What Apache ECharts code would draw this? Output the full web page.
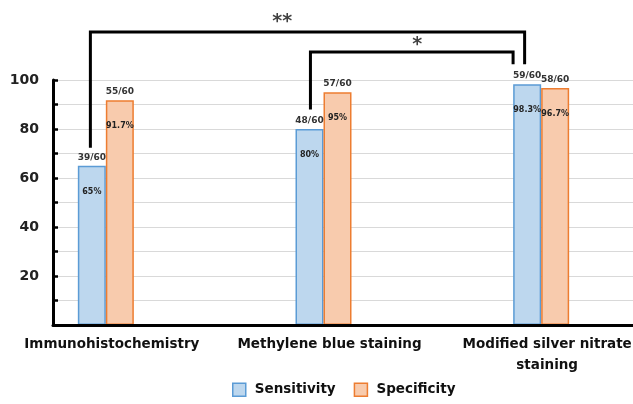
<!DOCTYPE html>
<html>
<head>
<meta charset="utf-8">
<script src="https://cdn.jsdelivr.net/npm/echarts@6/dist/echarts.min.js"></script>
<style>
html,body{margin:0;padding:0;background:#fff;}
#chart{width:633px;height:404px;}
</style>
</head>
<body>
<div id="chart"></div>
<script>
// ---- data ----
const categories = ['Immunohistochemistry', 'Methylene blue staining', 'Modified silver nitrate\nstaining'];
const seriesNames = ['Sensitivity', 'Specificity'];
const sensitivity = [65, 80, 98.3];
const specificity = [91.7, 95, 96.7];
const sensitivityCounts = ['39/60', '48/60', '59/60'];
const specificityCounts = ['55/60', '57/60', '58/60'];
const yTickLabels = [20, 40, 60, 80, 100];
// significance brackets (data units: x = category index, y = percent)
const bracketLabels = ['**', '*'];
const bracketPaths = [
  [[-0.071, 73], [-0.071, 119.6], [1.924, 119.6], [1.924, 107]],
  [[0.94, 88.6], [0.94, 111.4], [1.871, 111.4], [1.871, 107]]
];
const bracketLabelPos = [[0.81, 123.5], [1.43, 114.3]];

// ---- styles ----
const FONT = 'DejaVu Sans';
const fills = ['#bdd7ee', '#f8cbad'];
const borders = ['#5b9bd5', '#ed7d31'];

const valueSeries = [sensitivity, specificity];
const countSeries = [sensitivityCounts, specificityCounts];

const series = [];
valueSeries.forEach((vals, k) => {
  series.push({
    name: seriesNames[k], type: 'bar', stack: 's' + k,
    xAxisIndex: 0, yAxisIndex: 1,
    barWidth: 28, barGap: '0%',
    data: vals,
    itemStyle: { color: fills[k], borderColor: borders[k], borderWidth: 1.5 },
    label: {
      show: true, position: 'insideTop', distance: 22,
      formatter: p => p.value + '%',
      fontFamily: FONT, fontSize: 8, fontWeight: 'bold', color: '#222'
    },
    z: 2
  });
  series.push({
    name: seriesNames[k] + ' n', type: 'bar', stack: 's' + k,
    xAxisIndex: 0, yAxisIndex: 1,
    barWidth: 28, barGap: '0%',
    data: vals.map(() => 0),
    itemStyle: { color: 'rgba(0,0,0,0)' },
    label: {
      show: true, position: 'top', distance: 4,
      formatter: p => countSeries[k][p.dataIndex],
      fontFamily: FONT, fontSize: 9, fontWeight: 'bold', color: '#333'
    },
    silent: true, z: 3
  });
});

bracketPaths.forEach((path, i) => {
  series.push({
    type: 'line', xAxisIndex: 2, yAxisIndex: 1,
    data: path, symbol: 'none', clip: false, silent: true,
    lineStyle: { color: '#000', width: 3, join: 'miter', cap: 'square' },
    z: 4
  });
  series.push({
    type: 'scatter', xAxisIndex: 2, yAxisIndex: 1,
    data: [bracketLabelPos[i]], symbolSize: 1, clip: false, silent: true,
    itemStyle: { color: 'rgba(0,0,0,0)' },
    label: {
      show: true, position: 'inside', formatter: bracketLabels[i],
      fontFamily: FONT, fontSize: 19, fontWeight: 'bold', color: '#111'
    },
    z: 4
  });
});

const option = {
  backgroundColor: '#fff',
  animation: false,
  textStyle: { fontFamily: FONT },
  grid: [
    { left: -3, right: -17, top: 80, bottom: 79, containLabel: false, outerBoundsMode: 'none' },
    { left: 53, right: 0, top: 80, bottom: 79, containLabel: false, outerBoundsMode: 'none' }
  ],
  xAxis: [
    {
      type: 'category', gridIndex: 0, data: categories,
      axisLine: { show: false }, axisTick: { show: false },
      axisLabel: {
        interval: 0, margin: 9, fontFamily: FONT, fontSize: 13.5,
        fontWeight: 'bold', color: '#111', lineHeight: 21,
        padding: [0, 0, 0, 12]
      }
    },
    {
      type: 'value', gridIndex: 1, min: 0, max: 1, z: 5,
      axisLine: { show: true, lineStyle: { color: '#000', width: 3 } },
      axisTick: { show: false }, axisLabel: { show: false }, splitLine: { show: false }
    },
    {
      type: 'value', gridIndex: 0, min: -0.5, max: 2.5, show: false
    }
  ],
  yAxis: [
    {
      type: 'value', gridIndex: 1, min: 0, max: 100, interval: 10,
      axisLine: { show: true, lineStyle: { color: '#000', width: 3 } },
      axisTick: { show: true, inside: true, length: 5, lineStyle: { color: '#000', width: 2.5 } },
      axisLabel: {
        margin: 14, fontFamily: FONT, fontSize: 14, fontWeight: 'bold', color: '#222',
        formatter: v => (yTickLabels.indexOf(v) >= 0 ? String(v) : '')
      },
      splitLine: { show: true, lineStyle: { color: '#d9d9d9', width: 1 } }
    },
    { type: 'value', gridIndex: 0, min: 0, max: 100, show: false }
  ],
  legend: {
    left: 227, bottom: 2,
    itemWidth: 13, itemHeight: 13, itemGap: 18,
    icon: 'rect',
    textStyle: { fontFamily: FONT, fontSize: 13.5, fontWeight: 'bold', color: '#111', padding: [0, 0, 0, 4] },
    data: seriesNames.map((n, k) => ({
      name: n, itemStyle: { color: fills[k], borderColor: borders[k], borderWidth: 1.5 }
    }))
  },
  series: series
};

const chart = echarts.init(document.getElementById('chart'), null, { renderer: 'canvas' });
chart.setOption(option);
</script>
</body>
</html>
